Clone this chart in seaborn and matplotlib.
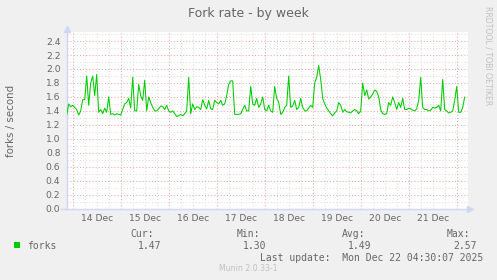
import numpy as np
import pandas as pd
import matplotlib
matplotlib.use("Agg")
import matplotlib.pyplot as plt
from matplotlib.patches import Rectangle
import seaborn as sns

# ---- data (hourly samples, hours since Dec 13 21:00) ----
forks = [
    1.34, 1.50, 1.46, 1.48, 1.45, 1.42, 1.34, 1.40, 1.56, 1.56,
    1.90, 1.48, 1.80, 1.90, 1.62, 1.92, 1.38, 1.42, 1.36, 1.44,
    1.38, 1.60, 1.35, 1.36, 1.34, 1.36, 1.35, 1.34, 1.42, 1.50,
    1.52, 1.58, 1.44, 1.88, 1.40, 1.40, 1.78, 1.62, 1.55, 1.84,
    1.40, 1.60, 1.52, 1.45, 1.40, 1.40, 1.43, 1.47, 1.46, 1.42,
    1.48, 1.40, 1.38, 1.40, 1.36, 1.32, 1.33, 1.35, 1.33, 1.36,
    1.40, 1.88, 1.36, 1.50, 1.42, 1.46, 1.45, 1.42, 1.56, 1.48,
    1.43, 1.55, 1.43, 1.42, 1.55, 1.52, 1.50, 1.55, 1.48, 1.50,
    1.62, 1.78, 1.83, 1.83, 1.35, 1.35, 1.35, 1.36, 1.42, 1.48,
    1.40, 1.40, 1.75, 1.50, 1.48, 1.58, 1.45, 1.50, 1.60, 1.42,
    1.40, 1.48, 1.40, 1.38, 1.75, 1.58, 1.52, 1.35, 1.38, 1.45,
    1.48, 1.90, 1.45, 1.47, 1.55, 1.42, 1.45, 1.58, 1.45, 1.40,
    1.40, 1.44, 1.48, 1.45, 1.80, 1.88, 2.05, 1.85, 1.58, 1.50,
    1.44, 1.40, 1.36, 1.33, 1.37, 1.40, 1.52, 1.48, 1.38, 1.42,
    1.39, 1.38, 1.37, 1.40, 1.42, 1.40, 1.36, 1.40, 1.80, 1.62,
    1.70, 1.57, 1.60, 1.64, 1.70, 1.68, 1.60, 1.42, 1.36, 1.35,
    1.36, 1.52, 1.48, 1.60, 1.52, 1.42, 1.52, 1.45, 1.58, 1.42,
    1.42, 1.44, 1.43, 1.41, 1.40, 1.43, 1.55, 1.88, 1.45, 1.42,
    1.42, 1.40, 1.41, 1.45, 1.44, 1.45, 1.48, 1.40, 1.85, 1.42,
    1.40, 1.37, 1.38, 1.40, 1.55, 1.75, 1.38, 1.38, 1.45, 1.60,
]
hours = list(range(len(forks)))
day_labels = ["14 Dec", "15 Dec", "16 Dec", "17 Dec", "18 Dec", "19 Dec", "20 Dec", "21 Dec"]
y_ticks = [0.0, 0.2, 0.4, 0.6, 0.8, 1.0, 1.2, 1.4, 1.6, 1.8, 2.0, 2.2, 2.4]
stat_names = ["Cur:", "Min:", "Avg:", "Max:"]
stat_values = ["1.47", "1.30", "1.49", "2.57"]

df = pd.DataFrame({"hour": hours, "forks": forks})

# ---- style ----
sns.set_theme(style="white")
plt.rcParams["font.family"] = ["DejaVu Sans"]

W, H = 497, 280
BG = "#F0F0F0"
FONT = "#666666"
GRID = "#dddddd"
MGRID = "#f0a8a8"
AXIS = "#CFD6F8"
LINE = "#00CC00"

fig = plt.figure(figsize=(W / 100, H / 100), dpi=100, facecolor=BG)

def fx(px):
    return px / W

def fy(py):
    return 1 - py / H

left, right, top, bottom = 66.7, 467.7, 32.3, 208.7
ax = fig.add_axes([fx(left), fy(bottom), fx(right - left), (bottom - top) / H])
ax.set_facecolor("white")

xmax = 200.5
ymax = 2.525
ax.set_xlim(0, xmax)
ax.set_ylim(0, ymax)

# grid
dot = (0, (1, 2))
first_day = 3
for h in np.arange(first_day, xmax, 6):
    is_major = (h - first_day) % 24 == 0
    ax.axvline(h, color=MGRID if is_major else GRID, lw=0.75, ls=dot, zorder=1)
for v in np.arange(0.1, ymax, 0.1):
    is_major = int(round(v * 10)) % 2 == 0
    ax.axhline(v, color=MGRID if is_major else GRID, lw=0.75, ls=dot, zorder=1)

sns.lineplot(data=df, x="hour", y="forks", ax=ax, color=LINE, lw=0.75, zorder=3)

# ticks
noon = [first_day + 12 + 24 * i for i in range(len(day_labels))]
ax.set_xticks(noon)
ax.set_xticklabels(day_labels)
ax.set_xticks(np.arange(first_day, xmax, 24), minor=True)
ax.tick_params(axis="x", which="major", length=0, pad=4, labelsize=6.6, labelcolor=FONT)
ax.tick_params(axis="x", which="minor", length=2.5, width=0.75, color=MGRID, direction="out")
ax.set_yticks(y_ticks)
ax.set_yticklabels([f"{v:.1f}" for v in y_ticks])
ax.tick_params(axis="y", which="major", length=2.5, width=0.75, color=MGRID, pad=2,
               labelsize=6.6, labelcolor=FONT, direction="out")
ax.set_xlabel("")
ax.set_ylabel("forks / second", fontsize=7.4, color=FONT)
ax.yaxis.set_label_coords((16 - left) / (right - left), 0.5)

for s in ["top", "right"]:
    ax.spines[s].set_visible(False)
for s in ["left", "bottom"]:
    ax.spines[s].set_color(AXIS)
    ax.spines[s].set_linewidth(1.0)
ax.spines["bottom"].set_bounds(-3, xmax + 1)
ax.spines["bottom"].set_position(("data", 0))
ax.plot([1.006], [0], marker=">", ms=4, color=AXIS, transform=ax.transAxes, clip_on=False)
ax.plot([0], [1.02], marker="^", ms=4, color=AXIS, transform=ax.transAxes, clip_on=False)
ax.plot([0, 0], [1.0, 1.02], color=AXIS, lw=1.0, transform=ax.transAxes, clip_on=False)

# title and side texts
fig.text(fx(248.5), fy(13), "Fork rate - by week", ha="center", va="center",
         fontsize=9, color=FONT)
fig.text(fx(488), fy(56), "RRDTOOL / TOBI OETIKER", ha="center", va="center",
         rotation=270, fontsize=5.6, color="#c0c0c0")

# legend area
fig.add_artist(Rectangle((fx(14), fy(248.3)), fx(6), 6 / H, transform=fig.transFigure,
                         facecolor=LINE, edgecolor="none"))
mono = "DejaVu Sans Mono"
fig.text(fx(27), fy(245.7), "forks", ha="left", va="center", fontsize=7, color=FONT, family=mono)
name_cx = [142.5, 248, 353.5, 458]
val_cx = [149.3, 255, 360, 465]
for n, v, nx, vx in zip(stat_names, stat_values, name_cx, val_cx):
    fig.text(fx(nx), fy(233.7), n, ha="center", va="center", fontsize=7, color=FONT, family=mono)
    fig.text(fx(vx), fy(245.7), v, ha="center", va="center", fontsize=7, color=FONT, family=mono)
fig.text(fx(483.5), fy(257.7), "Last update:  Mon Dec 22 04:30:07 2025", ha="right",
         va="center", fontsize=7, color=FONT, family=mono)
fig.text(fx(248.5), fy(268.7), "Munin 2.0.33-1", ha="center", va="center",
         fontsize=5.6, color="#c0c0c0")

fig.savefig("out.png", dpi=100, facecolor=BG)
